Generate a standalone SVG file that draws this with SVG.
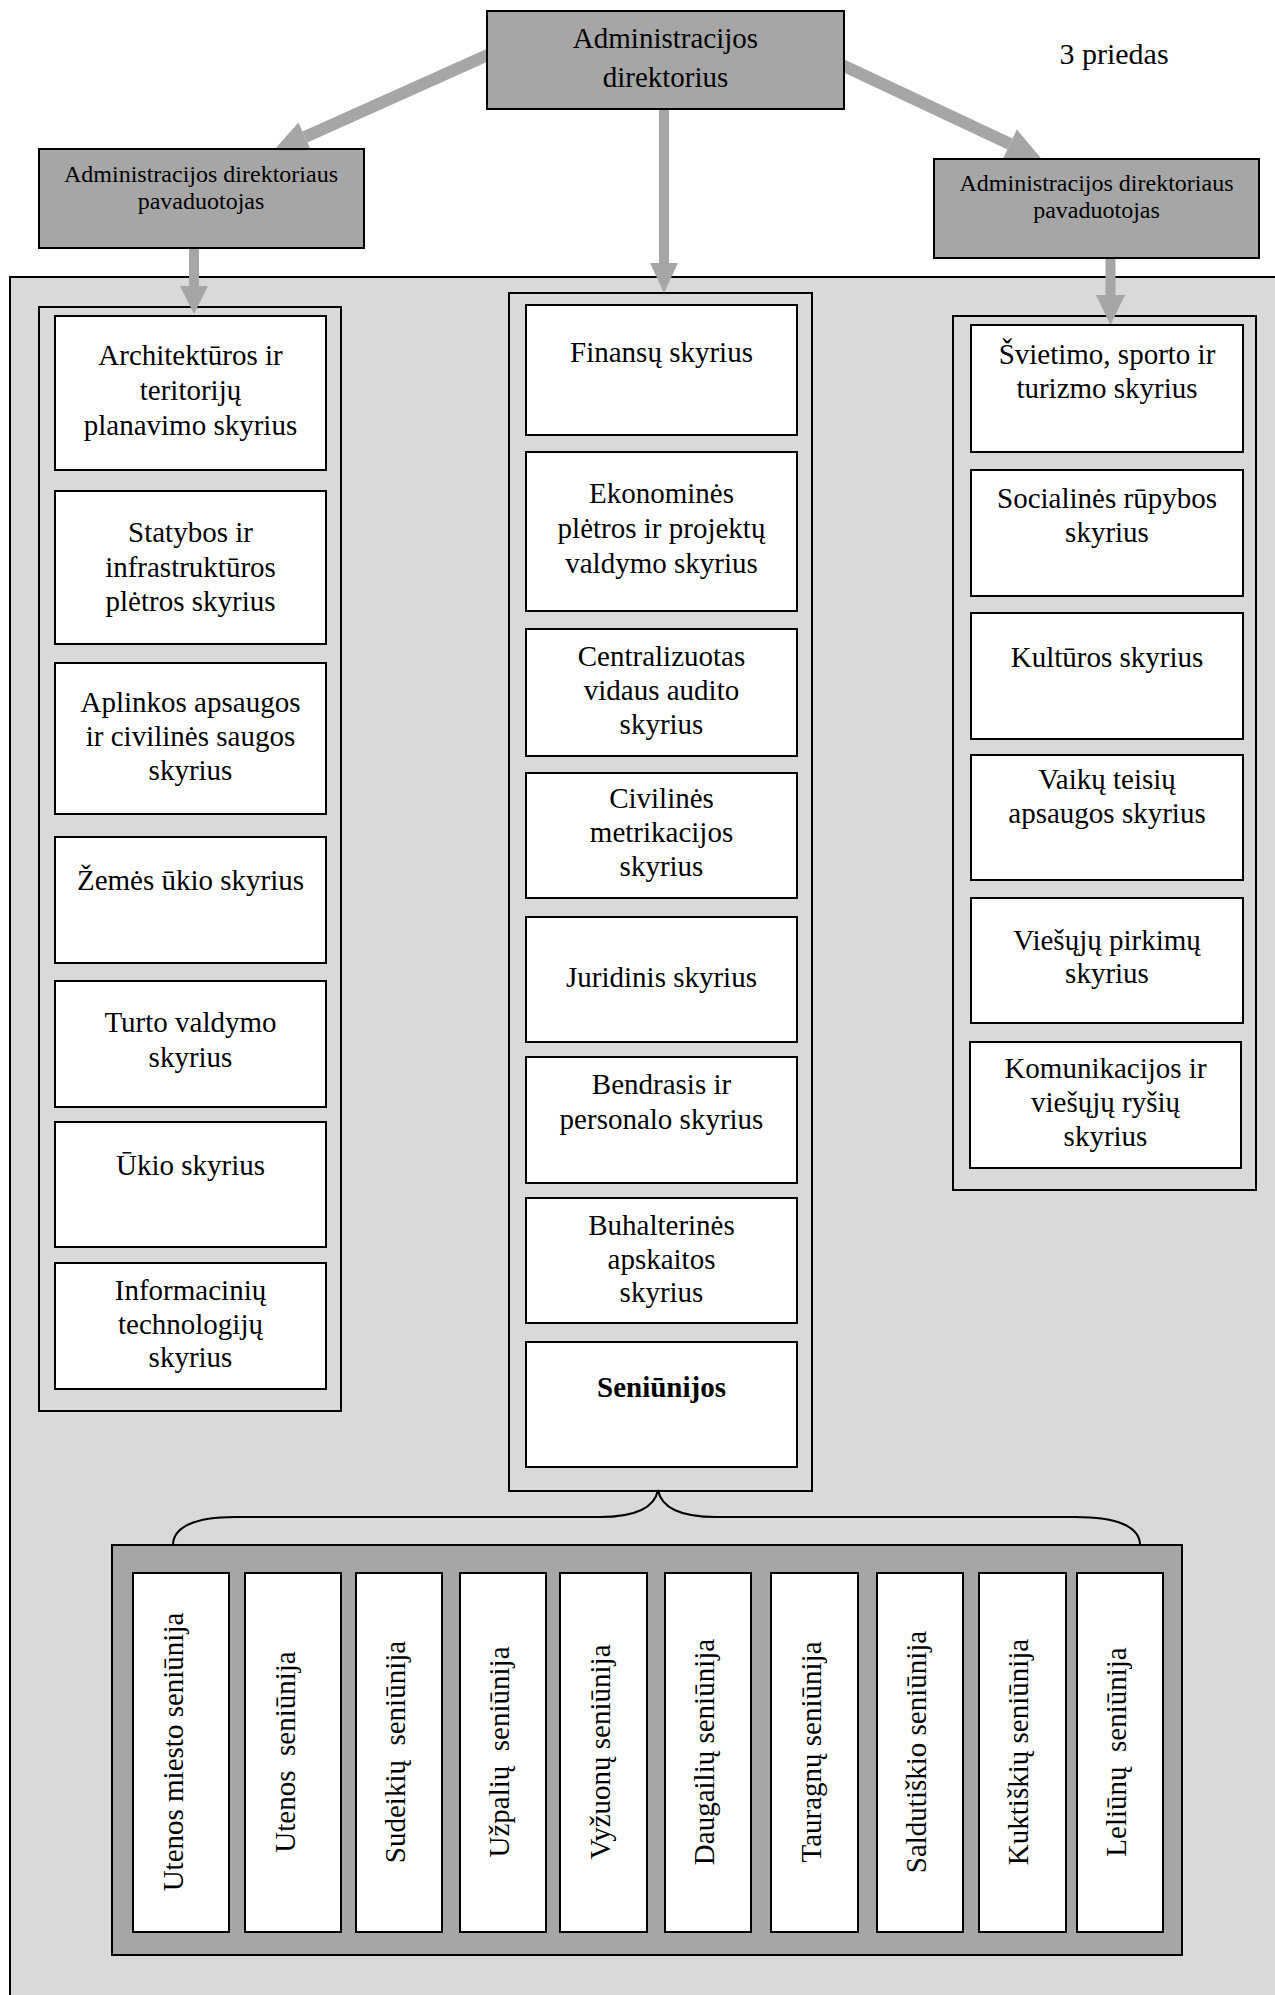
<svg xmlns="http://www.w3.org/2000/svg" width="1275" height="1995" viewBox="0 0 1275 1995">
<style>
.t{font-family:'Liberation Serif','Times New Roman',serif;font-size:29px;fill:#000;text-anchor:middle}
.s{font-size:24px}
.b{font-weight:bold}
.pre{white-space:pre}
.box{fill:#fff;stroke:#000;stroke-width:2}
.dark{fill:#a6a6a6;stroke:#000;stroke-width:2}
.col{fill:#d9d9d9;stroke:#000;stroke-width:2}
.shaft{stroke:#a6a6a6;stroke-width:12;fill:none}
.vshaft{stroke:#a6a6a6;stroke-width:10;fill:none}
.head{fill:#a6a6a6}
.brace{fill:none;stroke:#000;stroke-width:2}
</style>
<rect width="1275" height="1995" fill="#fff"/>
<text class="t" x="1114" y="64" style="font-size:30px">3 priedas</text>
<g id="panel"><rect class="col" x="10" y="277" width="1300" height="1760"/></g>

<g id="col-left"><rect class="col" x="39" y="307" width="302" height="1104"/></g>
<g id="col-middle"><rect class="col" x="509" y="293" width="303" height="1198"/></g>
<g id="col-right"><rect class="col" x="953" y="316" width="303" height="874"/></g>

<g id="connectors">
<line class="shaft" x1="490" y1="54" x2="305" y2="137"/>
<polygon class="head" points="298.5,122.4 311.5,151.6 273,151.3"/>
<line class="shaft" x1="842" y1="65" x2="1010" y2="144"/>
<polygon class="head" points="1016.8,129.5 1003.2,158.5 1041.7,158.9"/>
<line class="vshaft" x1="664" y1="105" x2="664" y2="264"/>
<polygon class="head" points="650,263 678,263 664,293"/>
<line class="vshaft" x1="194" y1="245" x2="194" y2="287"/>
<polygon class="head" points="180,286 208,286 194,314"/>
<line class="vshaft" x1="1110.5" y1="255" x2="1110.5" y2="296"/>
<polygon class="head" points="1096,295 1125,295 1110.5,325"/>
<path class="brace" d="M173,1545 C173,1527 195,1517 235,1517 L600,1517 C640,1517 655,1506 658,1490 C661,1506 676,1517 716,1517 L1075,1517 C1118,1517 1140,1527 1140,1545"/>
</g>

<g id="director"><rect class="dark" x="487" y="11" width="357" height="98"/>
<text class="t" x="665.5" y="48">Administracijos</text><text class="t" x="665.5" y="87">direktorius</text></g>
<g id="deputy-left"><rect class="dark" x="39" y="149" width="325" height="99"/>
<text class="t s" x="201" y="182">Administracijos direktoriaus</text><text class="t s" x="201" y="209">pavaduotojas</text></g>
<g id="deputy-right"><rect class="dark" x="934" y="159" width="325" height="99"/>
<text class="t s" x="1096.5" y="191">Administracijos direktoriaus</text><text class="t s" x="1096.5" y="218">pavaduotojas</text></g>

<g id="architekturos"><rect class="box" x="55" y="316" width="271" height="154"/>
<text class="t" x="190.5" y="365">Architektūros ir</text><text class="t" x="190.5" y="400">teritorijų</text><text class="t" x="190.5" y="435">planavimo skyrius</text></g>
<g id="statybos"><rect class="box" x="55" y="491" width="271" height="153"/>
<text class="t" x="190.5" y="542">Statybos ir</text><text class="t" x="190.5" y="577">infrastruktūros</text><text class="t" x="190.5" y="611">plėtros skyrius</text></g>
<g id="aplinkos"><rect class="box" x="55" y="663" width="271" height="151"/>
<text class="t" x="190.5" y="712">Aplinkos apsaugos</text><text class="t" x="190.5" y="746">ir civilinės saugos</text><text class="t" x="190.5" y="780">skyrius</text></g>
<g id="zemes"><rect class="box" x="55" y="837" width="271" height="126"/>
<text class="t" x="190.5" y="890">Žemės ūkio skyrius</text></g>
<g id="turto"><rect class="box" x="55" y="981" width="271" height="126"/>
<text class="t" x="190.5" y="1032">Turto valdymo</text><text class="t" x="190.5" y="1067">skyrius</text></g>
<g id="ukio"><rect class="box" x="55" y="1122" width="271" height="125"/>
<text class="t" x="190.5" y="1175">Ūkio skyrius</text></g>
<g id="it"><rect class="box" x="55" y="1263" width="271" height="126"/>
<text class="t" x="190.5" y="1300">Informacinių</text><text class="t" x="190.5" y="1334">technologijų</text><text class="t" x="190.5" y="1367">skyrius</text></g>

<g id="finansu"><rect class="box" x="526" y="305" width="271" height="130"/>
<text class="t" x="661.5" y="362">Finansų skyrius</text></g>
<g id="ekonomines"><rect class="box" x="526" y="452" width="271" height="159"/>
<text class="t" x="661.5" y="503">Ekonominės</text><text class="t" x="661.5" y="538">plėtros ir projektų</text><text class="t" x="661.5" y="573">valdymo skyrius</text></g>
<g id="auditas"><rect class="box" x="526" y="629" width="271" height="127"/>
<text class="t" x="661.5" y="666">Centralizuotas</text><text class="t" x="661.5" y="700">vidaus audito</text><text class="t" x="661.5" y="734">skyrius</text></g>
<g id="metrikacija"><rect class="box" x="526" y="773" width="271" height="125"/>
<text class="t" x="661.5" y="808">Civilinės</text><text class="t" x="661.5" y="842">metrikacijos</text><text class="t" x="661.5" y="876">skyrius</text></g>
<g id="juridinis"><rect class="box" x="526" y="917" width="271" height="125"/>
<text class="t" x="661.5" y="987">Juridinis skyrius</text></g>
<g id="bendrasis"><rect class="box" x="526" y="1057" width="271" height="126"/>
<text class="t" x="661.5" y="1094">Bendrasis ir</text><text class="t" x="661.5" y="1129">personalo skyrius</text></g>
<g id="buhalterines"><rect class="box" x="526" y="1198" width="271" height="125"/>
<text class="t" x="661.5" y="1235">Buhalterinės</text><text class="t" x="661.5" y="1269">apskaitos</text><text class="t" x="661.5" y="1302">skyrius</text></g>
<g id="seniunijos"><rect class="box" x="526" y="1342" width="271" height="125"/>
<text class="t b" x="661.5" y="1397">Seniūnijos</text></g>

<g id="svietimo"><rect class="box" x="971" y="325" width="272" height="127"/>
<text class="t" x="1107" y="364">Švietimo, sporto ir</text><text class="t" x="1107" y="398">turizmo skyrius</text></g>
<g id="socialines"><rect class="box" x="971" y="470" width="272" height="126"/>
<text class="t" x="1107" y="508">Socialinės rūpybos</text><text class="t" x="1107" y="542">skyrius</text></g>
<g id="kulturos"><rect class="box" x="971" y="613" width="272" height="126"/>
<text class="t" x="1107" y="667">Kultūros skyrius</text></g>
<g id="vaiku"><rect class="box" x="971" y="755" width="272" height="125"/>
<text class="t" x="1107" y="789">Vaikų teisių</text><text class="t" x="1107" y="823">apsaugos skyrius</text></g>
<g id="viesuju"><rect class="box" x="971" y="898" width="272" height="125"/>
<text class="t" x="1107" y="950">Viešųjų pirkimų</text><text class="t" x="1107" y="983">skyrius</text></g>
<g id="komunikacijos"><rect class="box" x="970" y="1042" width="271" height="126"/>
<text class="t" x="1105.5" y="1078">Komunikacijos ir</text><text class="t" x="1105.5" y="1112">viešųjų ryšių</text><text class="t" x="1105.5" y="1146">skyrius</text></g>

<g id="seniunijos-group"><rect class="dark" x="112" y="1545" width="1070" height="410"/></g>
<g id="s1"><rect class="box" x="133" y="1573" width="96" height="359"/>
<text class="t" transform="translate(183,1752) rotate(-90)">Utenos miesto seniūnija</text></g>
<g id="s2"><rect class="box" x="245" y="1573" width="96" height="359"/>
<text class="t pre" transform="translate(295,1752) rotate(-90)">Utenos  seniūnija</text></g>
<g id="s3"><rect class="box" x="356" y="1573" width="86" height="359"/>
<text class="t pre" transform="translate(405,1752) rotate(-90)">Sudeikių  seniūnija</text></g>
<g id="s4"><rect class="box" x="460" y="1573" width="86" height="359"/>
<text class="t pre" transform="translate(509,1752) rotate(-90)">Užpalių  seniūnija</text></g>
<g id="s5"><rect class="box" x="560" y="1573" width="87" height="359"/>
<text class="t" transform="translate(610,1752) rotate(-90)">Vyžuonų seniūnija</text></g>
<g id="s6"><rect class="box" x="665" y="1573" width="86" height="359"/>
<text class="t" transform="translate(714,1752) rotate(-90)">Daugailių seniūnija</text></g>
<g id="s7"><rect class="box" x="771" y="1573" width="87" height="359"/>
<text class="t" transform="translate(821,1752) rotate(-90)">Tauragnų seniūnija</text></g>
<g id="s8"><rect class="box" x="877" y="1573" width="86" height="359"/>
<text class="t" transform="translate(926,1752) rotate(-90)">Saldutiškio seniūnija</text></g>
<g id="s9"><rect class="box" x="979" y="1573" width="87" height="359"/>
<text class="t" transform="translate(1028,1752) rotate(-90)">Kuktiškių seniūnija</text></g>
<g id="s10"><rect class="box" x="1077" y="1573" width="86" height="359"/>
<text class="t pre" transform="translate(1126,1752) rotate(-90)">Leliūnų  seniūnija</text></g>
</svg>
